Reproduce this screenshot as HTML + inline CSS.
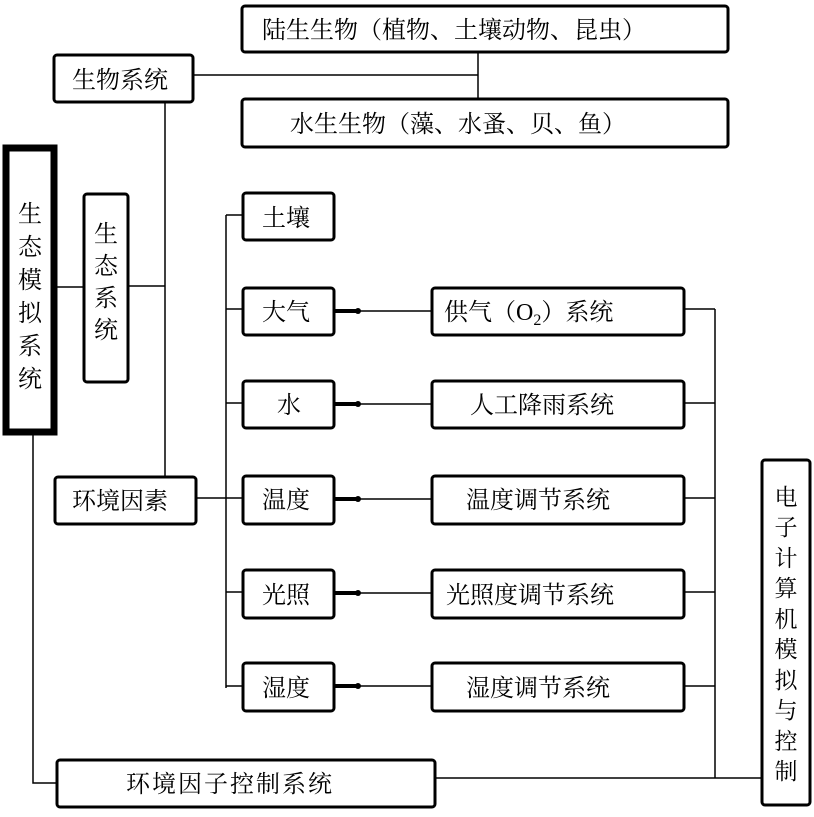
<!DOCTYPE html>
<html><head><meta charset="utf-8"><style>
html,body{margin:0;padding:0;background:#fff}
svg text{font-family:"Liberation Serif","Noto Serif CJK SC","Noto Sans CJK SC",serif;fill:#000}
</style></head><body>
<svg width="814" height="812" viewBox="0 0 814 812" xmlns="http://www.w3.org/2000/svg">
<g fill="none" stroke="#000">
<rect x="242" y="6" width="486" height="46" rx="3" stroke-width="3"/>
<rect x="54" y="55" width="139" height="47" rx="3" stroke-width="3"/>
<rect x="242" y="99" width="486" height="48" rx="3" stroke-width="3"/>
<rect x="6" y="148" width="48" height="284" stroke-width="7"/>
<rect x="84" y="194" width="44" height="188" rx="3" stroke-width="3"/>
<rect x="55" y="477" width="141" height="47" rx="3" stroke-width="3"/>
<rect x="57" y="760" width="378" height="47" rx="3" stroke-width="3"/>
<rect x="762" y="460" width="48" height="345" rx="3" stroke-width="3"/>
<rect x="243" y="193" width="91" height="47" rx="3" stroke-width="3"/>
<rect x="243" y="288" width="91" height="47" rx="3" stroke-width="3"/>
<rect x="243" y="381" width="91" height="47" rx="3" stroke-width="3"/>
<rect x="243" y="476" width="91" height="48" rx="3" stroke-width="3"/>
<rect x="243" y="570" width="91" height="48" rx="3" stroke-width="3"/>
<rect x="243" y="663" width="91" height="48" rx="3" stroke-width="3"/>
<rect x="432" y="288" width="252" height="47" rx="3" stroke-width="3"/>
<rect x="432" y="381" width="252" height="47" rx="3" stroke-width="3"/>
<rect x="432" y="476" width="252" height="48" rx="3" stroke-width="3"/>
<rect x="432" y="570" width="252" height="48" rx="3" stroke-width="3"/>
<rect x="432" y="663" width="252" height="48" rx="3" stroke-width="3"/>
<g stroke-width="1.5">
<path d="M193 75H478M478 52V99"/>
<path d="M57 287H84M128 286H165M165 102V477"/>
<path d="M33 432V783H57"/>
<path d="M196 498H226M226 215V688M226 215H243M226 309H243M226 403H243M226 498H243M226 592H243M226 686H243"/>
<path d="M684 309H715M684 403H715M684 498H715M684 592H715M684 686H715M715 309V778M435 778H762"/>
<path d="M334 311H432M334 404H432M334 499H432M334 593H432M334 686H432"/>
</g>
<g stroke-width="4">
<path d="M334 311H356M334 404H356M334 499H356M334 593H356M334 686H356"/>
</g>
</g>
<g fill="#000">
<circle cx="358" cy="311" r="3"/><circle cx="358" cy="404" r="3"/><circle cx="358" cy="499" r="3"/><circle cx="358" cy="593" r="3"/><circle cx="358" cy="686" r="3"/>
</g>
<g font-size="24">
<text x="262" y="38">陆生生物（植物、土壤动物、昆虫）</text>
<text x="72" y="88">生物系统</text>
<text x="290" y="132">水生生物（藻、水蚤、贝、鱼）</text>
<text x="72" y="509">环境因素</text>
<text x="126" y="792" letter-spacing="2">环境因子控制系统</text>
<text x="262" y="226">土壤</text>
<text x="262" y="320">大气</text>
<text x="277" y="413">水</text>
<text x="262" y="508">温度</text>
<text x="262" y="603">光照</text>
<text x="262" y="696">湿度</text>
<text x="444" y="320">供气（O<tspan font-size="16" dy="5">2</tspan><tspan dy="-5">）系统</tspan></text>
<text x="470" y="413">人工降雨系统</text>
<text x="466" y="508">温度调节系统</text>
<text x="446" y="603">光照度调节系统</text>
<text x="466" y="696">湿度调节系统</text>
</g>
<g font-size="24" text-anchor="middle">
<text x="30" y="222">生</text><text x="30" y="255">态</text><text x="30" y="288">模</text><text x="30" y="321">拟</text><text x="30" y="354">系</text><text x="30" y="387">统</text>
<text x="106" y="242">生</text><text x="106" y="274">态</text><text x="106" y="306">系</text><text x="106" y="338">统</text>
</g>
<g font-size="23" text-anchor="middle">
<text x="786" y="505">电</text><text x="786" y="535">子</text><text x="786" y="566">计</text><text x="786" y="596">算</text><text x="786" y="627">机</text><text x="786" y="657">模</text><text x="786" y="688">拟</text><text x="786" y="718">与</text><text x="786" y="749">控</text><text x="786" y="779">制</text>
</g>
</svg>
</body></html>
